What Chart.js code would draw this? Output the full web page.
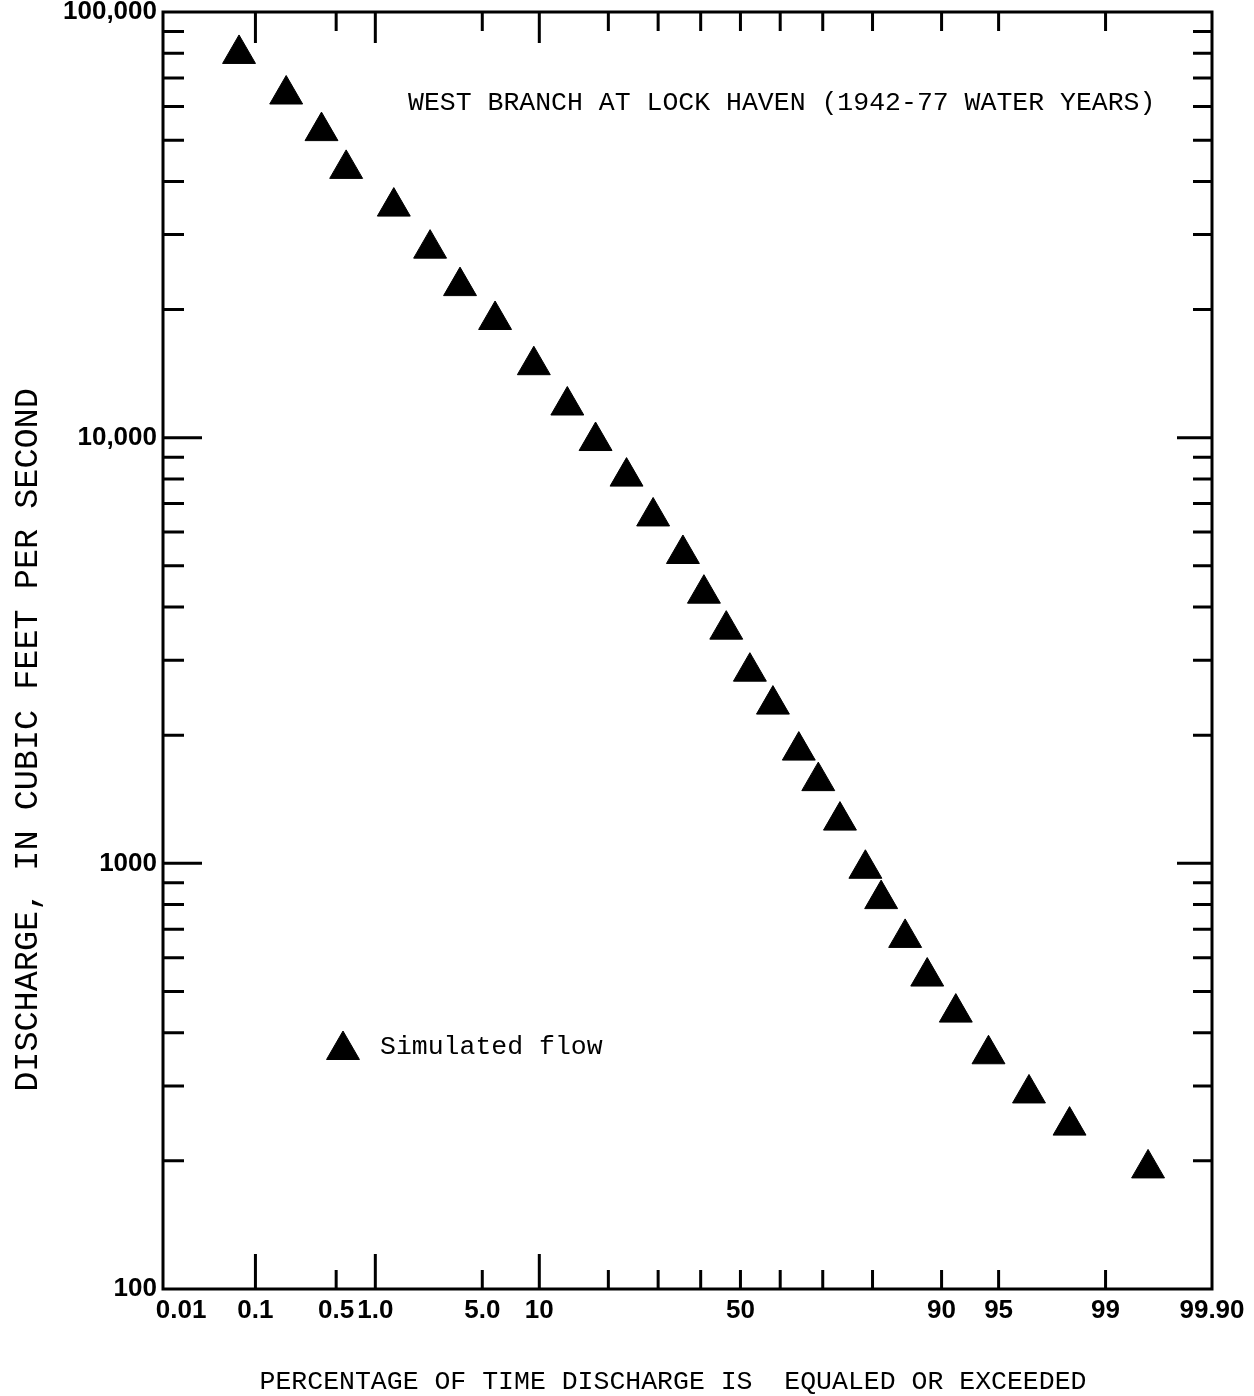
<!DOCTYPE html>
<html>
<head>
<meta charset="utf-8">
<title>West Branch at Lock Haven - flow duration</title>
<script src="https://cdn.jsdelivr.net/npm/chart.js@4.4.1/dist/chart.umd.min.js"></script>
<style>
  body { margin: 0; background: #fff; }
  #wrap { width: 1254px; height: 1396px; }
</style>
</head>
<body>
<div id="wrap"><canvas id="durationChart" width="1254" height="1396"></canvas></div>
<script>
// percent of time equaled or exceeded
const exceedPct = [0.07, 0.19, 0.38, 0.60, 1.36, 2.4, 3.7, 5.9, 9.4, 13.5,
  17.8, 23.4, 28.9, 35.7, 40.8, 46.4, 52.4, 58.2, 64.5, 69.0,
  73.7, 78.7, 81.5, 85.3, 88.3, 91.5, 94.3, 96.7, 98.2, 99.53];
// discharge, cubic feet per second
const simulatedFlow = [79700, 64000, 52500, 42800, 34900, 27800, 22700, 18900, 14800, 11900,
  9820, 8100, 6530, 5330, 4300, 3540, 2820, 2360, 1840, 1560,
  1260, 971, 824, 668, 542, 446, 356, 288, 242, 192];

const xTickPct = [0.01, 0.1, 0.5, 1, 5, 10, 20, 30, 40, 50, 60, 70, 80, 90, 95, 99, 99.9];
const xTickLabels = ['     0.01', '0.1', '0.5', '1.0', '5.0', '10', '', '', '', '50', '', '', '', '90', '95', '99', '99.90'];
const xLongTicks = [0.1, 1, 10];
// edges of the printed grid
const xEdgePct = [0.0117, 99.867];

const yDecades = [100, 1000, 10000, 100000];
const yTickLabels = ['100', '1000', '10,000', '100,000'];

const titleText = 'WEST BRANCH AT LOCK HAVEN (1942-77 WATER YEARS)';
const xTitle = 'PERCENTAGE OF TIME DISCHARGE IS  EQUALED OR EXCEEDED';
const yTitle = 'DISCHARGE, IN CUBIC FEET PER SECOND';

const typeFont = '"Liberation Mono", "DejaVu Sans Mono", monospace';
const tickFont = '"Liberation Sans", sans-serif';

// inverse normal CDF (Acklam), used for the probability axis
function probit(p) {
  const a = [-3.969683028665376e+01, 2.209460984245205e+02, -2.759285104469687e+02, 1.383577518672690e+02, -3.066479806614716e+01, 2.506628277459239e+00];
  const b = [-5.447609879822406e+01, 1.615858368580409e+02, -1.556989798598866e+02, 6.680131188771972e+01, -1.328068255363339e+01];
  const c = [-7.784894002430293e-03, -3.223964580411365e-01, -2.400758350181712e+00, -2.549732539343734e+00, 4.374664141464968e+00, 2.938163982698783e+00];
  const d = [7.784695709041462e-03, 3.224671290700398e-01, 2.445134137142996e+00, 3.754408661907416e+00];
  const pl = 0.02425;
  let q, r;
  if (p < pl) {
    q = Math.sqrt(-2 * Math.log(p));
    return (((((c[0]*q+c[1])*q+c[2])*q+c[3])*q+c[4])*q+c[5]) / ((((d[0]*q+d[1])*q+d[2])*q+d[3])*q+1);
  }
  if (p > 1 - pl) {
    q = Math.sqrt(-2 * Math.log(1 - p));
    return -(((((c[0]*q+c[1])*q+c[2])*q+c[3])*q+c[4])*q+c[5]) / ((((d[0]*q+d[1])*q+d[2])*q+d[3])*q+1);
  }
  q = p - 0.5;
  r = q * q;
  return (((((a[0]*r+a[1])*r+a[2])*r+a[3])*r+a[4])*r+a[5])*q / (((((b[0]*r+b[1])*r+b[2])*r+b[3])*r+b[4])*r+1);
}

const xMin = probit(xEdgePct[0] / 100);
const xMax = probit(xEdgePct[1] / 100);
const clampX = v => Math.min(xMax, Math.max(xMin, v));

const points = exceedPct.map((p, i) => ({ x: probit(p / 100), y: simulatedFlow[i] }));

const yTickValues = [];
yDecades.forEach(dec => {
  if (dec === 100000) { yTickValues.push(dec); return; }
  for (let m = 1; m <= 9; m++) yTickValues.push(dec * m);
});

// frame, inward tick marks and the lettering on the sheet
const paperPlugin = {
  id: 'paper',
  beforeDatasetsDraw(chart) {
    const { ctx, chartArea: ca, scales } = chart;
    ctx.save();
    ctx.strokeStyle = '#000';
    ctx.lineWidth = 3;
    ctx.lineCap = 'butt';
    ctx.strokeRect(ca.left, ca.top, ca.right - ca.left, ca.bottom - ca.top);

    ctx.beginPath();
    xTickPct.forEach(p => {
      const v = probit(p / 100);
      if (v <= xMin || v >= xMax) return;
      const px = scales.x.getPixelForValue(v);
      const long = xLongTicks.includes(p);
      ctx.moveTo(px, ca.bottom); ctx.lineTo(px, ca.bottom - (long ? 35 : 19));
      ctx.moveTo(px, ca.top); ctx.lineTo(px, ca.top + (long ? 31 : 19));
    });
    yTickValues.forEach(v => {
      if (v === 100 || v === 100000) return;
      const py = scales.y.getPixelForValue(v);
      const major = yDecades.includes(v);
      ctx.moveTo(ca.left, py); ctx.lineTo(ca.left + (major ? 39 : 21), py);
      ctx.moveTo(ca.right, py); ctx.lineTo(ca.right - (major ? 35 : 19), py);
    });
    ctx.stroke();
    ctx.restore();
  },
  afterDraw(chart) {
    const { ctx, chartArea: ca } = chart;
    const ds = chart.data.datasets[0];
    ctx.save();
    ctx.fillStyle = '#000';
    ctx.textBaseline = 'middle';

    ctx.font = '26.5px ' + typeFont;
    ctx.textAlign = 'left';
    ctx.fillText(titleText, ca.left + 245, ca.top + 91);

    // legend
    ctx.strokeStyle = '#000';
    ctx.lineWidth = 1;
    Chart.helpers.drawPoint(ctx, { pointStyle: ds.pointStyle, radius: ds.pointRadius, rotation: 0, borderWidth: 1 }, ca.left + 180, ca.top + 1038);
    ctx.fillText(ds.label, ca.left + 217, ca.top + 1035);

    ctx.textAlign = 'center';
    ctx.fillText(xTitle, 673, 1382);

    ctx.translate(28, 740);
    ctx.rotate(-Math.PI / 2);
    ctx.font = '33.5px ' + typeFont;
    ctx.fillText(yTitle, 0, 0);
    ctx.restore();
  }
};

const ctx = document.getElementById('durationChart').getContext('2d');

const durationChart = new Chart(ctx, {
  type: 'scatter',
  data: {
    datasets: [{
      label: 'Simulated flow',
      data: points,
      pointStyle: 'triangle',
      pointRadius: 19,
      pointHoverRadius: 19,
      backgroundColor: '#000',
      borderColor: '#000',
      borderWidth: 1
    }]
  },
  options: {
    responsive: false,
    animation: false,
    devicePixelRatio: 1,
    layout: { autoPadding: false, padding: { top: 12, right: 42, bottom: 0, left: 0 } },
    plugins: {
      legend: { display: false },
      tooltip: { enabled: false }
    },
    scales: {
      x: {
        type: 'linear',
        min: xMin,
        max: xMax,
        afterBuildTicks: scale => {
          scale.ticks = xTickPct.map(p => ({ value: clampX(probit(p / 100)) }));
        },
        afterFit: scale => {
          scale.height = 107;
          scale.paddingLeft = 0;
          scale.paddingRight = 0;
        },
        grid: { display: false, drawTicks: false },
        border: { display: false },
        ticks: {
          autoSkip: false,
          maxRotation: 0,
          padding: 6,
          color: '#000',
          font: { family: tickFont, size: 26, weight: 'bold' },
          callback: (val, i) => xTickLabels[i]
        }
      },
      y: {
        type: 'logarithmic',
        min: 100,
        max: 100000,
        afterBuildTicks: scale => {
          scale.ticks = yTickValues.map(v => ({ value: v }));
        },
        afterFit: scale => {
          scale.width = 163;
          scale.paddingTop = 0;
          scale.paddingBottom = 0;
        },
        grid: { display: false, drawTicks: false },
        border: { display: false },
        ticks: {
          autoSkip: false,
          padding: 6,
          color: '#000',
          font: { family: tickFont, size: 26, weight: 'bold' },
          callback: val => {
            const i = yDecades.indexOf(val);
            return i >= 0 ? yTickLabels[i] : '';
          }
        }
      }
    }
  },
  plugins: [paperPlugin]
});
</script>
</body>
</html>
